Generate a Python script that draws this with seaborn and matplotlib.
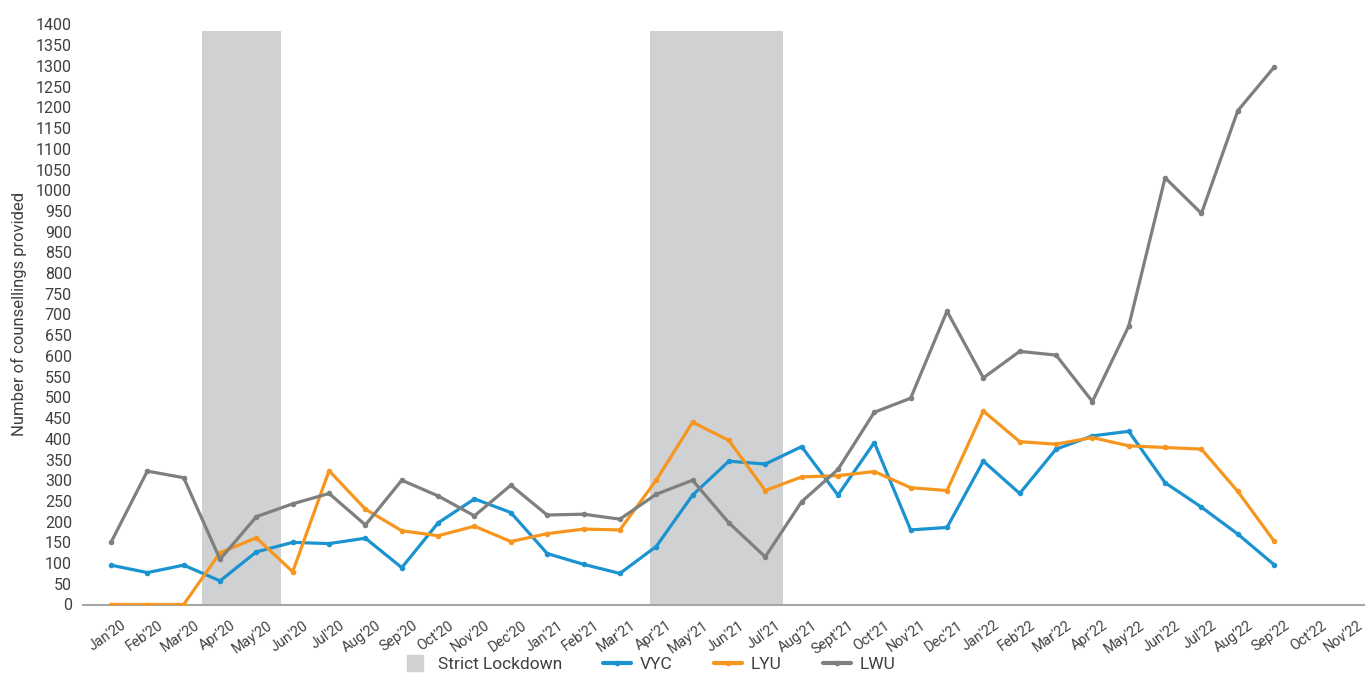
import matplotlib
matplotlib.use('Agg')
import matplotlib.pyplot as plt
from matplotlib.lines import Line2D
import seaborn as sns
import numpy as np
import pandas as pd

months = ["Jan'20", "Feb'20", "Mar'20", "Apr'20", "May'20", "Jun'20", "Jul'20", "Aug'20",
          "Sep'20", "Oct'20", "Nov'20", "Dec'20", "Jan'21", "Feb'21", "Mar'21", "Apr'21",
          "May'21", "Jun'21", "Jul'21", "Aug'21", "Sept'21", "Oct'21", "Nov'21", "Dec'21",
          "Jan'22", "Feb'22", "Mar'22", "Apr'22", "May'22", "Jun'22", "Jul'22", "Aug'22",
          "Sep'22", "Oct'22", "Nov'22"]

# monthly counts, Jan'20 .. Sep'22
vyc = [95, 77, 95, 57, 127, 150, 147, 160, 89, 197, 255, 222, 123, 97, 75, 140, 264,
       346, 339, 381, 264, 391, 180, 186, 346, 268, 375, 407, 418, 294, 235, 170, 96]
lyu = [0, 0, 0, 125, 161, 79, 323, 230, 178, 166, 189, 152, 171, 182, 180, 300, 440,
       396, 275, 308, 311, 321, 282, 275, 467, 393, 387, 403, 383, 379, 375, 273, 153]
lwu = [150, 322, 306, 109, 212, 243, 268, 192, 300, 262, 214, 288, 216, 218, 206, 266, 300,
       197, 115, 248, 326, 464, 498, 708, 547, 611, 602, 490, 672, 1030, 944, 1192, 1297]

# strict lockdown periods (first and last month) and shade height
lockdown_start = ["Apr'20", "Apr'21"]
lockdown_end = ["May'20", "Jul'21"]
lockdown_height = 1385

series_names = ["VYC", "LYU", "LWU"]
colors = {"VYC": "#1B93D1", "LYU": "#F7961E", "LWU": "#7F7F80"}
shade_color = "#D0D1D3"
text_color = "#404040"

rows = []
for name, vals in zip(series_names, [vyc, lyu, lwu]):
    for i, v in enumerate(vals):
        rows.append({"idx": i, "value": v, "series": name})
df = pd.DataFrame(rows)

sns.set_style("white")
plt.rcParams['font.family'] = ['Roboto', 'DejaVu Sans']

fig = plt.figure(figsize=(13.65, 6.73), dpi=100)
ax = fig.add_axes([83 / 1365, 1 - 604.5 / 673, 1 - 83 / 1365, 580 / 673])

# shaded lockdown bands (edge offsets tuned to the original layout)
left_pad = [0.5, 0.18]
right_pad = [0.67, 0.48]
for s, e, lp, rp in zip(lockdown_start, lockdown_end, left_pad, right_pad):
    ax.fill_between([months.index(s) - lp, months.index(e) + rp], 0, lockdown_height,
                    color=shade_color, lw=0, zorder=0)

sns.lineplot(data=df, x="idx", y="value", hue="series", palette=colors,
             hue_order=series_names, marker="o", markersize=4, markeredgewidth=0,
             linewidth=2.3, ax=ax, legend=False, zorder=3)

ax.set_xlim(-0.77, 34.5)
ax.set_ylim(0, 1400)
# rotated labels end a little to the right of each month's point
ax.set_xticks(np.arange(len(months)) + 0.28)
ax.set_xticklabels(months, rotation=35, ha='right', va='top', rotation_mode='anchor',
                   fontsize=10.3, color=text_color)
ax.set_yticks(range(0, 1401, 50))
ax.tick_params(axis='y', labelsize=11.5, colors=text_color, length=0, pad=8)
ax.tick_params(axis='x', length=0, pad=10)
ax.set_xlabel("")
ax.set_ylabel("Number of counsellings provided", fontsize=12, color=text_color, labelpad=6)

for sp in ['top', 'right', 'left']:
    ax.spines[sp].set_visible(False)
ax.spines['bottom'].set_color('#A6A6A6')
ax.spines['bottom'].set_linewidth(1.5)

handles = [Line2D([0], [0], color=shade_color, marker='s', markersize=11, ls='none',
                  label="Strict Lockdown")]
for name in series_names:
    handles.append(Line2D([0], [0], color=colors[name], lw=3, marker='o', markersize=3,
                          label=name))
leg = fig.legend(handles=handles, loc='center', bbox_to_anchor=(0.475, 1 - 664 / 673),
                 ncol=4, frameon=False, fontsize=12.5, handlelength=1.6,
                 columnspacing=2.4, handletextpad=0.5)
for t in leg.get_texts():
    t.set_color(text_color)

fig.savefig("out.png", dpi=100)
plt.close(fig)
